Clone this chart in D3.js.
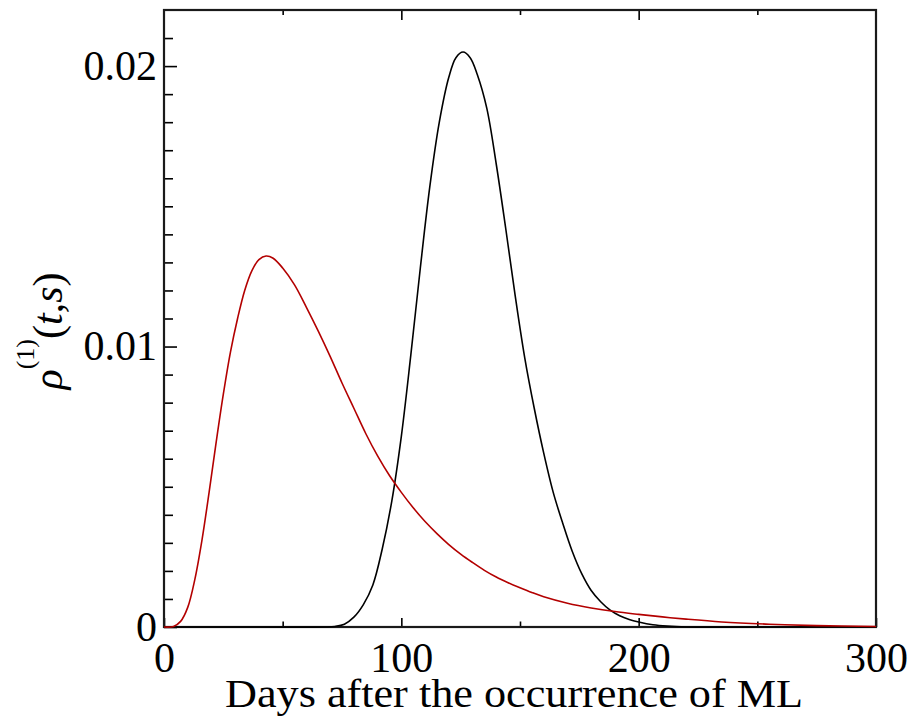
<!DOCTYPE html>
<html>
<head>
<meta charset="utf-8">
<script src="https://cdn.jsdelivr.net/npm/d3@7"></script>
<style>
  body { margin: 0; background: #fff; }
  svg text { font-family: "Liberation Serif", "Times New Roman", serif; fill: #000; }
</style>
</head>
<body>
<div id="chart"></div>
<script>
// values (days, density)
const redDays = [0, 4, 7, 10, 13, 16, 19, 22, 25, 28, 31, 34, 37, 40, 43, 46, 50, 55, 60, 65, 70, 75, 80, 85, 90, 95, 100, 105, 110, 115, 120, 125, 130, 135, 140, 145, 150, 155, 160, 170, 180, 190, 200, 210, 220, 235, 255, 275, 300];
const redValues = [0, 0.00002, 0.0002, 0.0007, 0.0017, 0.0031, 0.0048, 0.0066, 0.0083, 0.0098, 0.0110, 0.0120, 0.0127, 0.0131, 0.01323, 0.01315, 0.0128, 0.0122, 0.0114, 0.01055, 0.00965, 0.0087, 0.0078, 0.0069, 0.0061, 0.0054, 0.0048, 0.00425, 0.00376, 0.00333, 0.00294, 0.0026, 0.0023, 0.00202, 0.00178, 0.00158, 0.0014, 0.00123, 0.00108, 0.00085, 0.00068, 0.00055, 0.00045, 0.00036, 0.00028, 0.00018, 0.0001, 0.00005, 0.00002];

const blackDays = [0, 40, 68, 72, 76, 80, 84, 88, 92, 96, 100, 104, 108, 112, 116, 120, 123, 126, 129, 132, 136, 140, 144, 148, 152, 156, 160, 164, 168, 172, 176, 180, 184, 188, 192, 196, 200, 206, 212, 220, 260, 300];
const blackValues = [0, 0, 0, 0.00002, 0.0001, 0.00035, 0.0008, 0.0015, 0.0028, 0.0045, 0.0068, 0.0097, 0.0128, 0.0157, 0.0180, 0.0196, 0.0203, 0.0205, 0.0203, 0.0197, 0.0185, 0.0165, 0.0142, 0.0118, 0.0096, 0.0078, 0.0062, 0.0048, 0.0037, 0.0027, 0.0019, 0.0013, 0.0009, 0.0006, 0.0004, 0.00027, 0.00018, 0.00008, 0.00003, 0, 0, 0];

const xMajor = [0, 100, 200, 300];
const xMinor = [50, 150, 250];
const yMajor = [0, 0.01, 0.02];
const yMinor = [0.001, 0.002, 0.003, 0.004, 0.005, 0.006, 0.007, 0.008, 0.009, 0.011, 0.012, 0.013, 0.014, 0.015, 0.016, 0.017, 0.018, 0.019, 0.021];
const yLabels = ["0", "0.01", "0.02"];

const width = 914;
const height = 718;
const margin = { left: 164, top: 10, right: 38, bottom: 91 };

const svg = d3.select("#chart")
  .append("svg")
  .attr("width", width)
  .attr("height", height);

const x = d3.scaleLinear()
  .domain([0, 300])
  .range([margin.left, width - margin.right]);

const y = d3.scaleLinear()
  .domain([0, 0.022])
  .range([height - margin.bottom, margin.top]);

const fontSize = 42;

// bottom axis, ticks point inward
svg.append("g")
  .attr("transform", `translate(0,${height - margin.bottom})`)
  .call(d3.axisBottom(x).tickValues(xMajor).tickSize(-9).tickPadding(15).tickFormat(d3.format("d")));
svg.append("g")
  .attr("transform", `translate(0,${height - margin.bottom})`)
  .call(d3.axisBottom(x).tickValues(xMinor).tickSize(-5.5).tickFormat(""));

// top axis
svg.append("g")
  .attr("transform", `translate(0,${margin.top})`)
  .call(d3.axisTop(x).tickValues([100, 200]).tickSize(-10).tickFormat(""));
svg.append("g")
  .attr("transform", `translate(0,${margin.top})`)
  .call(d3.axisTop(x).tickValues(xMinor).tickSize(-5).tickFormat(""));

// left axis
svg.append("g")
  .attr("transform", `translate(${margin.left},0)`)
  .call(d3.axisLeft(y).tickValues(yMajor).tickSize(-13).tickPadding(7).tickFormat((d, i) => yLabels[i]));
svg.append("g")
  .attr("transform", `translate(${margin.left},0)`)
  .call(d3.axisLeft(y).tickValues(yMinor).tickSize(-9).tickFormat(""));

svg.selectAll(".domain").remove();
svg.selectAll(".tick line").attr("stroke", "#000").attr("stroke-width", 1.6);
svg.selectAll(".tick text").style("font-size", fontSize + "px").attr("fill", "#000");

// frame
svg.append("rect")
  .attr("x", x(0))
  .attr("y", y(0.022))
  .attr("width", x(300) - x(0))
  .attr("height", y(0) - y(0.022))
  .attr("fill", "none")
  .attr("stroke", "#1a1a1a")
  .attr("stroke-width", 2.2);

const line = d3.line()
  .x(d => x(d[0]))
  .y(d => y(d[1]))
  .curve(d3.curveCatmullRom.alpha(0.5));

svg.append("path")
  .datum(d3.zip(blackDays, blackValues))
  .attr("d", line)
  .attr("fill", "none")
  .attr("stroke", "#000")
  .attr("stroke-width", 1.6);

svg.append("path")
  .datum(d3.zip(redDays, redValues))
  .attr("d", line)
  .attr("fill", "none")
  .attr("stroke", "#b30000")
  .attr("stroke-width", 1.6);

// x label
svg.append("text")
  .attr("x", 514)
  .attr("y", 707)
  .attr("text-anchor", "middle")
  .attr("textLength", 578)
  .attr("lengthAdjust", "spacingAndGlyphs")
  .style("font-size", "40px")
  .text("Days after the occurrence of ML");

// y label
const yl = svg.append("text")
  .attr("transform", "translate(62,331) rotate(-90)")
  .attr("text-anchor", "middle")
  .style("font-size", "42px");
yl.append("tspan").style("font-style", "italic").text("ρ");
yl.append("tspan").attr("dy", -28).style("font-size", "26px").text("(1)");
yl.append("tspan").attr("dy", 28).text("(");
yl.append("tspan").style("font-style", "italic").text("t");
yl.append("tspan").text(",");
yl.append("tspan").style("font-style", "italic").text("s");
yl.append("tspan").text(")");
</script>
</body>
</html>
